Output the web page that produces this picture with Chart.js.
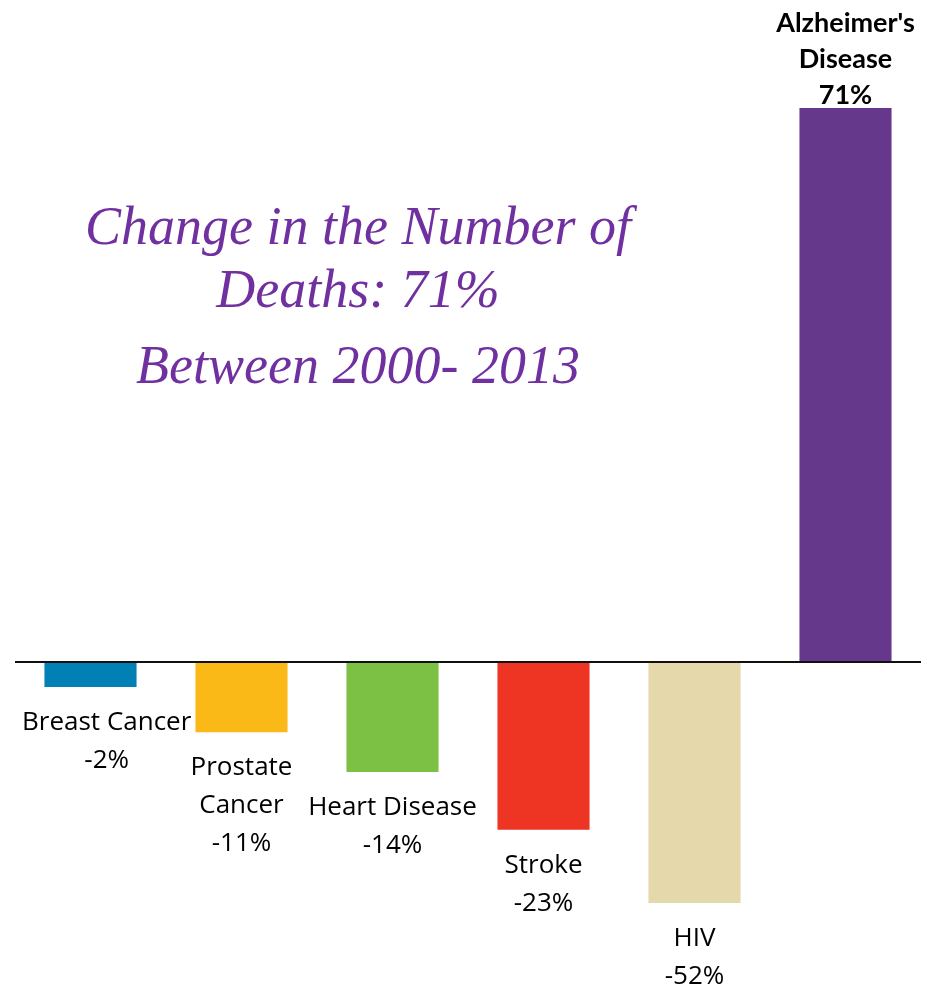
<!DOCTYPE html>
<html>
<head>
<meta charset="utf-8">
<title>Change in the Number of Deaths</title>
<script src="https://cdn.jsdelivr.net/npm/chart.js@4/dist/chart.umd.min.js"></script>
<style>
  html, body { margin: 0; padding: 0; background: #fff; }
  #chart { display: block; }
</style>
</head>
<body>
<canvas id="chart" width="940" height="988"></canvas>
<script>
// category names (one entry per line of the label)
const categories = [
  ['Breast Cancer'],
  ['Prostate', 'Cancer'],
  ['Heart Disease'],
  ['Stroke'],
  ['HIV'],
  ["Alzheimer's", 'Disease']
];
// printed percentages
const changeLabels = ['-2%', '-11%', '-14%', '-23%', '-52%', '71%'];
// bar lengths as drawn in the picture (they don't scale to the printed values)
const barValues = [-3.2, -9, -14.1, -21.5, -30.9, 71];
const barColors = ['#0080b4', '#fbb917', '#7cc144', '#ee3524', '#e5d8aa', '#65388c'];
const titleLines = ['Change in the Number of', 'Deaths: 71%', 'Between 2000- 2013'];

const labelPlugin = {
  id: 'barLabels',
  afterDatasetsDraw(chart) {
    const { ctx, scales: { y }, chartArea } = chart;
    const zeroY = y.getPixelForValue(0);

    // baseline
    ctx.save();
    ctx.strokeStyle = '#111';
    ctx.lineWidth = 2;
    ctx.beginPath();
    ctx.moveTo(chartArea.left, zeroY);
    ctx.lineTo(chartArea.right, zeroY);
    ctx.stroke();

    // labels under / over each bar
    const meta = chart.getDatasetMeta(0);
    ctx.fillStyle = '#000';
    ctx.textAlign = 'center';
    ctx.textBaseline = 'alphabetic';
    meta.data.forEach((bar, i) => {
      const lines = [...categories[i], changeLabels[i]];
      if (barValues[i] < 0) {
        ctx.font = '26px "Open Sans"';
        // keep the label block clear of the left edge
        const w = Math.max(...lines.map(t => ctx.measureText(t).width));
        const x = Math.max(bar.x, chartArea.left + 7 + w / 2);
        lines.forEach((t, k) => ctx.fillText(t, x, bar.y + 43 + k * 38));
      } else {
        ctx.font = 'bold 27px Lato';
        const n = lines.length;
        lines.forEach((t, k) => ctx.fillText(t, bar.x, bar.y - 4 - (n - 1 - k) * 36));
      }
    });

    // title text
    ctx.fillStyle = '#7030a0';
    ctx.font = 'italic 54px "Liberation Serif"';
    const titleY = [244, 307, 383];
    titleLines.forEach((t, k) => ctx.fillText(t, 358, titleY[k]));
    ctx.restore();
  }
};

new Chart(document.getElementById('chart'), {
  type: 'bar',
  data: {
    labels: categories.map(c => c.join(' ')),
    datasets: [{
      data: barValues,
      backgroundColor: barColors,
      borderWidth: 0,
      categoryPercentage: 1,
      barPercentage: 0.61
    }]
  },
  options: {
    responsive: false,
    animation: false,
    devicePixelRatio: 1,
    layout: { padding: { left: 15, right: 19, top: 108, bottom: 14 } },
    plugins: { legend: { display: false }, tooltip: { enabled: false } },
    scales: {
      x: { display: false },
      y: { display: false, min: -40, max: 71 }
    }
  },
  plugins: [labelPlugin]
});
</script>
</body>
</html>
